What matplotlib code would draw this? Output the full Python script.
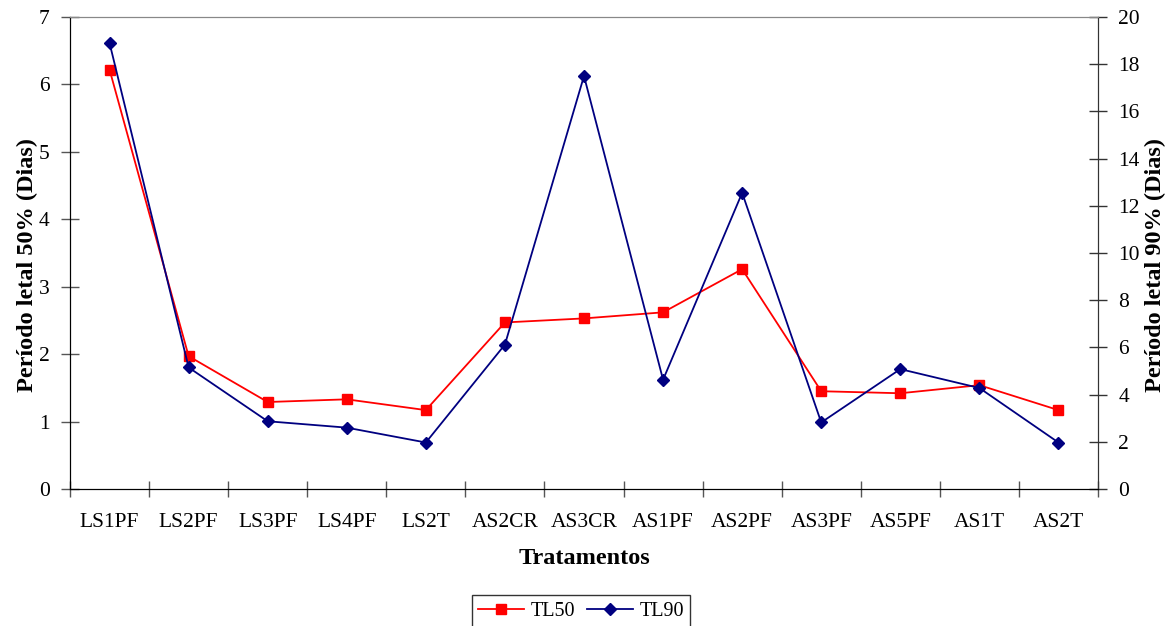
import matplotlib
matplotlib.use("Agg")
import matplotlib.pyplot as plt
from matplotlib.ticker import FixedLocator, NullFormatter

categories = ["LS1PF", "LS2PF", "LS3PF", "LS4PF", "LS2T", "AS2CR", "AS3CR",
              "AS1PF", "AS2PF", "AS3PF", "AS5PF", "AS1T", "AS2T"]
tl50 = [6.22, 1.97, 1.29, 1.33, 1.17, 2.47, 2.53, 2.62, 3.26, 1.45, 1.42, 1.54, 1.17]
tl90 = [18.9, 5.15, 2.87, 2.6, 1.97, 6.12, 17.5, 4.63, 12.55, 2.82, 5.08, 4.28, 1.97]

plt.rcParams['font.family'] = ['Liberation Serif', 'DejaVu Serif']

fig = plt.figure(figsize=(11.73, 6.26), dpi=100)
ax = fig.add_axes([70/1173, 1-489/626, 1028/1173, 472/626])
ax2 = ax.twinx()

x = list(range(len(categories)))
l1, = ax.plot(x, tl50, color='#ff0000', marker='s', markersize=7, linewidth=1.3,
              label='TL50', zorder=3)
l2, = ax2.plot(x, tl90, color='#000080', marker='D', markersize=6, linewidth=1.3,
               label='TL90', zorder=3)

ax.set_xlim(-0.5, len(categories) - 0.5)
ax.set_ylim(0, 7)
ax2.set_ylim(0, 20)
ax.set_yticks(range(0, 8))
ax2.set_yticks(range(0, 21, 2))

ax.xaxis.set_major_locator(FixedLocator([i - 0.5 for i in range(len(categories) + 1)]))
ax.xaxis.set_major_formatter(NullFormatter())
ax.xaxis.set_minor_locator(FixedLocator(x))
ax.set_xticklabels(categories, minor=True)
ax.tick_params(axis='x', which='minor', length=0, pad=17, labelsize=15.5)
ax.tick_params(axis='x', which='major', direction='inout', length=12, width=1, color='#555555')
ax.tick_params(axis='y', direction='inout', length=13, width=1, color='#555555',
               labelsize=15.5, pad=8)
ax2.tick_params(axis='y', direction='inout', length=13, width=1, color='#333333',
                labelsize=15.5, pad=8)

for a in (ax, ax2):
    a.spines['top'].set_color('#888888')
    a.spines['left'].set_color('black')
    a.spines['right'].set_color('#333333')
    a.spines['bottom'].set_color('black')

ax.set_ylabel('Período letal 50% (Dias)', fontsize=17.5, fontweight='bold', labelpad=1)
ax2.set_ylabel('Período letal 90% (Dias)', fontsize=17.5, fontweight='bold', labelpad=4)
ax.yaxis.label.set_y(0.475)
ax2.yaxis.label.set_y(0.475)
ax.set_xlabel('Tratamentos', fontsize=17.5, fontweight='bold', labelpad=12)

leg = fig.legend([l1, l2], ['TL50', 'TL90'], loc='center', bbox_to_anchor=(581/1173, 1-611/626),
                 ncol=2, fontsize=14.5, frameon=True, fancybox=False, edgecolor='black',
                 handlelength=2.3, columnspacing=0.6, handletextpad=0.3, borderpad=0.3)
leg.get_frame().set_linewidth(1.0)

fig.savefig('out.png', dpi=100)
